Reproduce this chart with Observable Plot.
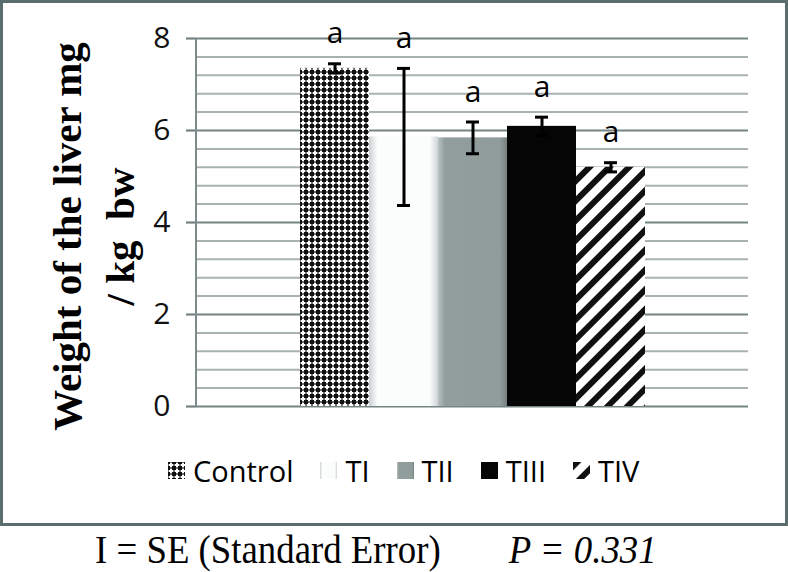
<!DOCTYPE html>
<html>
<head>
<meta charset="utf-8">
<script src="https://cdn.jsdelivr.net/npm/d3@7"></script>
<script src="https://cdn.jsdelivr.net/npm/@observablehq/plot@0.6"></script>
<style>
  html, body { margin: 0; padding: 0; background: #fff; }
  #wrap { position: relative; width: 788px; height: 572px; overflow: hidden; background: #fff; }
  #box { position: absolute; left: 0px; top: 0px; width: 788px; height: 526px; box-sizing: border-box; border: 3px solid #5b6d6d; }
  #chart { position: absolute; left: 0; top: 0; }
  #chart text { white-space: pre; }
  #legend { position: absolute; left: 168px; top: 451px; width: 620px; }
  #legend .lg-swatches { margin: 0 !important; }
  #legend .lg-swatch { margin-right: 27px !important; }
  #legend .lg-swatch > svg { margin-right: 8px !important; }
  #caption { position: absolute; left: 95px; top: 526px; font-family: "Liberation Serif", "Times New Roman", serif; font-size: 40px; color: #000; white-space: pre; transform: scaleX(0.92); transform-origin: 0 0; }
  #caption i { margin-left: 14px; }
</style>
</head>
<body>
<div id="wrap">
  <svg width="0" height="0" style="position:absolute">
    <defs>
      <pattern id="pCtrl" patternUnits="userSpaceOnUse" width="6" height="6">
        <rect width="6" height="6" fill="#111"/>
        <rect x="2" y="0.6" width="2" height="4.8" fill="#fff"/>
        <rect x="0.6" y="2" width="4.8" height="2" fill="#fff"/>
      </pattern>
      <linearGradient id="gTI" x1="0" x2="1" y1="0" y2="0">
        <stop offset="0" stop-color="#c9d0d0"/>
        <stop offset="0.12" stop-color="#fbfcfc"/>
        <stop offset="0.88" stop-color="#fbfcfc"/>
        <stop offset="1" stop-color="#ced4d4"/>
      </linearGradient>
      <linearGradient id="gTII" x1="0" x2="1" y1="0" y2="0">
        <stop offset="0" stop-color="#b9c2c1"/>
        <stop offset="0.1" stop-color="#929e9c"/>
        <stop offset="0.9" stop-color="#909c9a"/>
        <stop offset="1" stop-color="#76817f"/>
      </linearGradient>
      <pattern id="pTIV" patternUnits="userSpaceOnUse" width="14" height="14" patternTransform="rotate(45)">
        <rect width="14" height="14" fill="#fff"/>
        <rect width="6" height="14" fill="#111"/>
      </pattern>
    </defs>
  </svg>
  <div id="box"></div>
  <div id="chart"></div>
  <div id="legend"></div>
  <div id="caption">I = SE (Standard Error)      <i>P = 0.331</i></div>
</div>
<script>
// ---- data ----
const categories = ["Control", "TI", "TII", "TIII", "TIV"];
const means = [7.35, 5.86, 5.84, 6.09, 5.20];
const errors = [0.10, 1.49, 0.345, 0.20, 0.10];
const letters = ["a", "a", "a", "a", "a"];
const yTicks = [0, 2, 4, 6, 8];
const yMinor = [0.4, 0.8, 1.2, 1.6, 2.4, 2.8, 3.2, 3.6, 4.4, 4.8, 5.2, 5.6, 6.4, 6.8, 7.2, 7.6];
const yTitle = "Weight of the liver mg\n/ kg  bw";
const fills = ["url(#pCtrl)", "url(#gTI)", "url(#gTII)", "#050505", "url(#pTIV)"];

const data = categories.map((c, i) => ({cat: c, m: means[i], se: errors[i], sig: letters[i]}));

const axisLine = (index, scales, values, dims) => {
  const y = scales.y;
  const l = document.createElementNS("http://www.w3.org/2000/svg", "line");
  const x0 = dims.marginLeft;
  l.setAttribute("x1", x0); l.setAttribute("x2", x0);
  l.setAttribute("y1", y(0)); l.setAttribute("y2", y(8));
  l.setAttribute("stroke", "#7d8b8b");
  l.setAttribute("stroke-width", 2);
  return l;
};

const chart = Plot.plot({
  width: 788,
  height: 440,
  marginLeft: 196,
  marginRight: 40,
  marginTop: 38,
  marginBottom: 34,
  style: {fontFamily: "'Open Sans', sans-serif", background: "transparent", overflow: "visible"},
  x: {type: "band", domain: categories, range: [300, 645], padding: 0, axis: null},
  y: {domain: [0, 8], axis: null},
  color: {domain: categories, range: fills},
  marks: [
    Plot.ruleY(yMinor, {stroke: "#a9b2b2", strokeWidth: 2}),
    Plot.ruleY(yTicks, {stroke: "#748383", strokeWidth: 2.2}),
    Plot.axisY(yTicks, {label: null, tickSize: 10, tickPadding: 16, fontSize: 30, color: "#111", stroke: "#748383", strokeWidth: 2.2, tickFormat: d => String(d)}),
    axisLine,
    Plot.barY(data, {x: "cat", y: "m", fill: "cat"}),
    Plot.ruleX(data, {x: "cat", y1: d => d.m - d.se, y2: d => d.m + d.se, stroke: "#000", strokeWidth: 3}),
    Plot.tickY(data, {x: "cat", y: d => d.m + d.se, stroke: "#000", strokeWidth: 3, insetLeft: 28, insetRight: 28}),
    Plot.tickY(data, {x: "cat", y: d => d.m - d.se, stroke: "#000", strokeWidth: 3, insetLeft: 28, insetRight: 28}),
    Plot.text(data, {x: "cat", y: d => d.m + d.se, text: "sig", dy: -30, fontSize: 30, fill: "#000"}),
    Plot.text([yTitle], {frameAnchor: "left", textAnchor: "middle", lineAnchor: "middle", dx: -106, dy: 14, rotate: -90, lineHeight: 1.3, fontSize: 41, fontWeight: "bold", fontFamily: "'Liberation Serif', 'Times New Roman', serif", fill: "#000"})
  ]
});
document.getElementById("chart").appendChild(chart);

const leg = chart.legend("color", {
  className: "lg",
  swatchSize: 17,
  style: {fontSize: "29px", fontFamily: "'Open Sans', sans-serif", color: "#000"}
});
document.getElementById("legend").appendChild(leg);
</script>
</body>
</html>
